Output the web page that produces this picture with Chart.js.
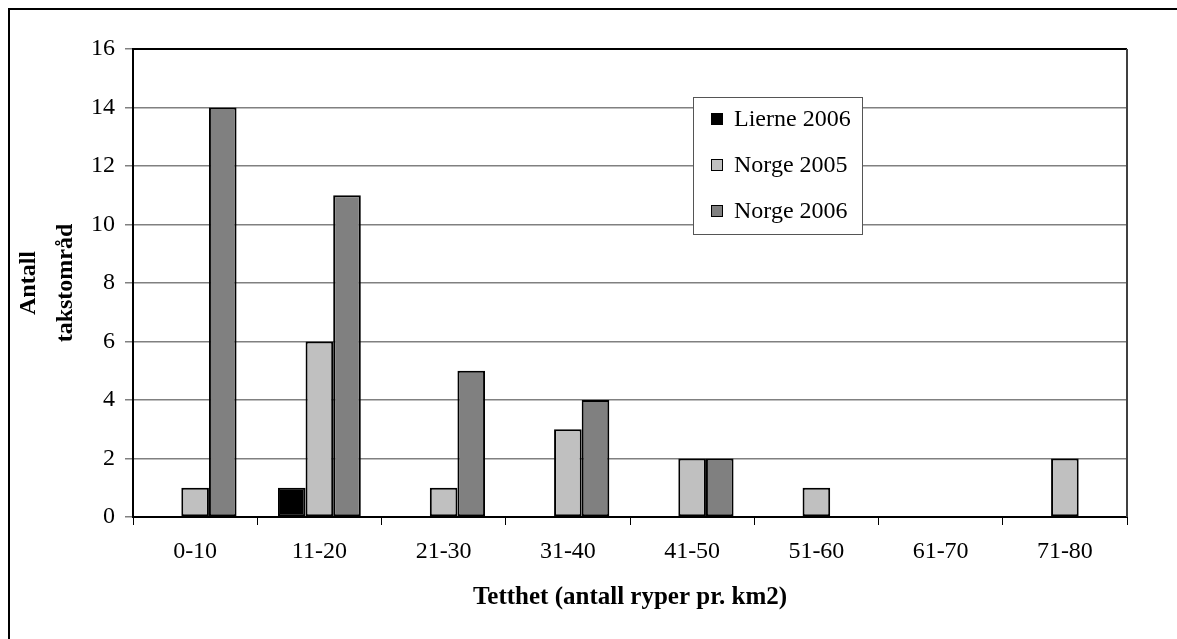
<!DOCTYPE html>
<html>
<head>
<meta charset="utf-8">
<script src="https://cdn.jsdelivr.net/npm/chart.js@4/dist/chart.umd.min.js"></script>
<style>
  body { margin: 0; background: #fff; }
  #wrap { width: 1177px; height: 639px; }
</style>
</head>
<body>
<div id="wrap"><canvas id="c" width="1177" height="639"></canvas></div>
<script>
// tetthetsklasser og antall takstområder
const categories = ['0-10', '11-20', '21-30', '31-40', '41-50', '51-60', '61-70', '71-80'];
const lierne2006 = [0, 1, 0, 0, 0, 0, 0, 0];
const norge2005 = [1, 6, 1, 3, 2, 1, 0, 2];
const norge2006 = [14, 11, 5, 4, 2, 0, 0, 0];
const yTicks = [0, 2, 4, 6, 8, 10, 12, 14, 16];

const FONT = "'Liberation Serif', 'Times New Roman', serif";

// ramme rundt hele figuren + plotramme topp/høyre
const framePlugin = {
    id: 'frame',
    beforeDraw(chart) {
        const ctx = chart.ctx;
        ctx.save();
        ctx.fillStyle = '#fff';
        ctx.fillRect(0, 0, chart.width, chart.height);
        ctx.strokeStyle = '#000';
        ctx.lineWidth = 2;
        ctx.beginPath();
        ctx.moveTo(9, chart.height);
        ctx.lineTo(9, 9);
        ctx.lineTo(chart.width, 9);
        ctx.stroke();
        ctx.restore();
    },
    afterDatasetsDraw(chart) {
        const a = chart.chartArea;
        const ctx = chart.ctx;
        ctx.save();
        ctx.lineWidth = 2;
        ctx.strokeStyle = '#000';
        ctx.beginPath();
        ctx.moveTo(a.left, a.top);
        ctx.lineTo(a.right, a.top);
        ctx.stroke();
        ctx.strokeStyle = '#404040';
        ctx.beginPath();
        ctx.moveTo(a.right, a.top);
        ctx.lineTo(a.right, a.bottom);
        ctx.stroke();
        ctx.restore();
    }
};

// forklaring i boks inne i plottet
const legendBox = {
    id: 'legendBox',
    afterDraw(chart) {
        const ctx = chart.ctx;
        const x = 693, y = 97, w = 169, h = 137;
        ctx.save();
        ctx.fillStyle = '#fff';
        ctx.fillRect(x, y, w, h);
        ctx.strokeStyle = '#555';
        ctx.lineWidth = 1;
        ctx.strokeRect(x + 0.5, y + 0.5, w, h);
        ctx.font = '24px ' + FONT;
        ctx.textBaseline = 'middle';
        chart.data.datasets.forEach((ds, i) => {
            const cy = y + 22 + i * 46;
            ctx.fillStyle = ds.backgroundColor;
            ctx.fillRect(711, cy - 6, 12, 12);
            ctx.strokeStyle = '#000';
            ctx.strokeRect(711.5, cy - 5.5, 11, 11);
            ctx.fillStyle = '#000';
            ctx.fillText(ds.label, 734, cy + 1);
        });
        ctx.restore();
    }
};

new Chart(document.getElementById('c'), {
    type: 'bar',
    data: {
        labels: categories,
        datasets: [
            { label: 'Lierne 2006', data: lierne2006, backgroundColor: '#000000' },
            { label: 'Norge 2005', data: norge2005, backgroundColor: '#C0C0C0' },
            { label: 'Norge 2006', data: norge2006, backgroundColor: '#808080' }
        ]
    },
    options: {
        responsive: false,
        animation: false,
        layout: { padding: { left: 10, top: 49, right: 50, bottom: 0 } },
        datasets: {
            bar: {
                borderColor: '#000',
                // ingen kant på søyler med verdi 0
                borderWidth: (c) => (c.raw ? 2 : 0),
                borderSkipped: false,
                categoryPercentage: 0.667,
                barPercentage: 1
            }
        },
        plugins: {
            legend: { display: false },
            tooltip: { enabled: false }
        },
        scales: {
            x: {
                afterFit(scale) { scale.height = 639 - 517; },
                grid: { drawOnChartArea: false, drawTicks: true, tickLength: 8, color: '#000' },
                border: { color: '#000', width: 2 },
                ticks: { color: '#000', font: { family: FONT, size: 24 }, padding: 12 },
                title: {
                    display: true,
                    text: 'Tetthet (antall ryper pr. km2)',
                    color: '#000',
                    font: { family: FONT, size: 25, weight: 'bold' },
                    padding: { top: 4, bottom: 26 }
                }
            },
            y: {
                min: 0,
                max: 16,
                afterFit(scale) { scale.width = 133 - 10; },
                afterBuildTicks(scale) { scale.ticks = yTicks.map(v => ({ value: v })); },
                grid: { color: '#808080', lineWidth: 1.5, tickLength: 8 },
                border: { color: '#000', width: 2 },
                ticks: { color: '#000', font: { family: FONT, size: 24 }, padding: 10 },
                title: {
                    display: true,
                    text: ['Antall', 'takstområd'],
                    color: '#000',
                    font: { family: FONT, size: 24, weight: 'bold', lineHeight: 1.54 },
                    padding: { top: 0, bottom: 0 }
                }
            }
        }
    },
    plugins: [framePlugin, legendBox]
});
</script>
</body>
</html>
